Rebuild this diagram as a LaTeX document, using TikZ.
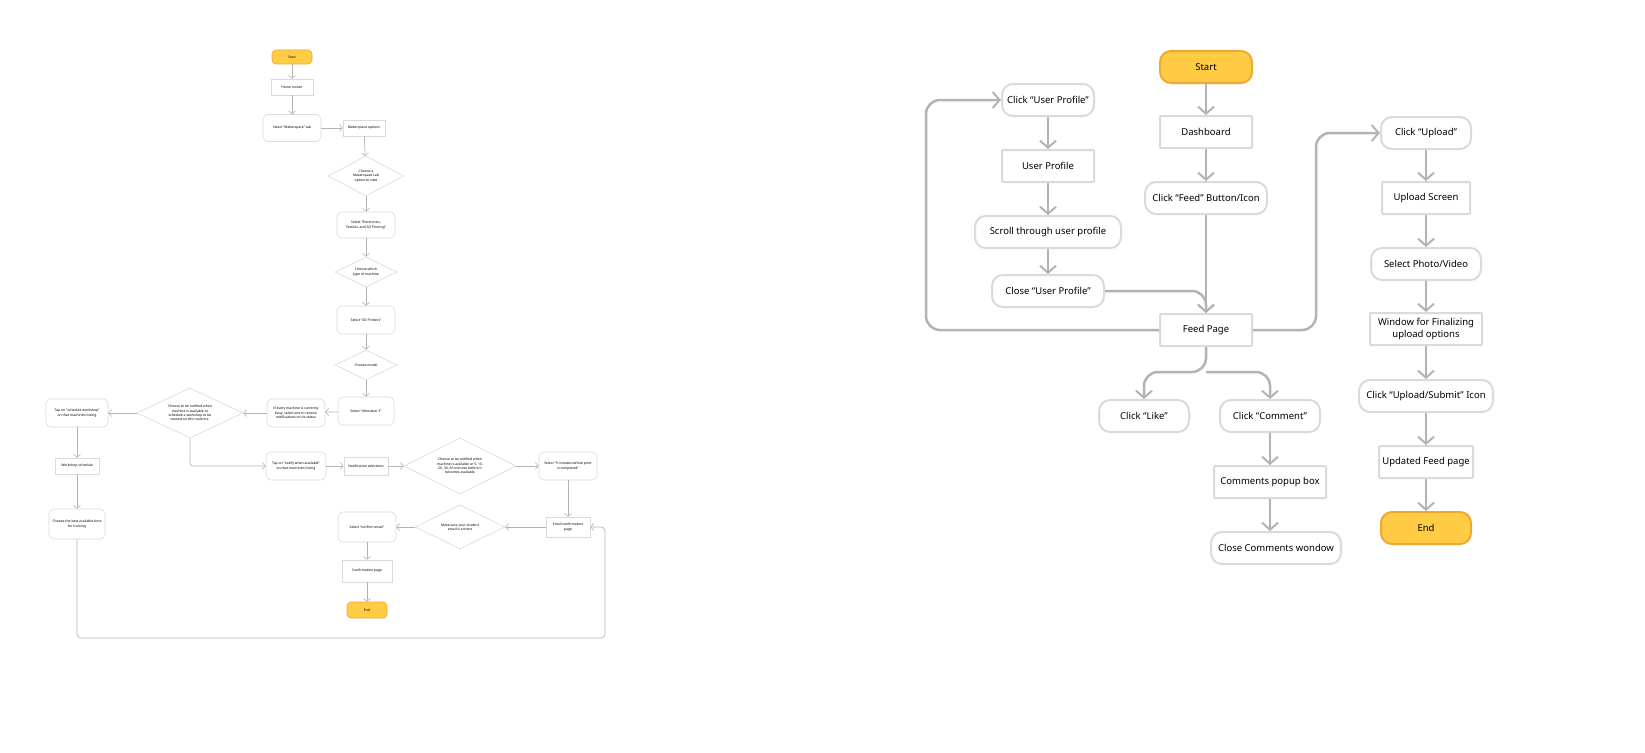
\documentclass[tikz,border=0pt]{standalone}
\usepackage{fontspec}
\setmainfont{Noto Sans}
\usetikzlibrary{arrows.meta,shapes.geometric}
\definecolor{bd}{HTML}{DADADA}
\definecolor{ar}{HTML}{B3B3B3}
\definecolor{yf}{HTML}{FFCC44}
\definecolor{yb}{HTML}{F0A830}
\begin{document}
\begin{tikzpicture}[x=1pt,y=-1pt,
 R/.style={draw=bd,line width=2pt,rounded corners=11pt,fill=white,minimum height=32pt,font=\fontsize{9.5}{12}\selectfont,align=center,inner sep=2pt},
 Q/.style={draw=bd,line width=2pt,rounded corners=1pt,fill=white,minimum height=32pt,font=\fontsize{9.5}{12}\selectfont,align=center,inner sep=2pt},
 Y/.style={R,fill=yf,draw=yb},
 A/.style={draw=ar,line width=2.5pt,-{Straight Barb[length=7pt,width=16pt,line width=2pt]},rounded corners=14pt},
 lr/.style={draw=bd,line width=0.6pt,rounded corners=5pt,fill=white,font=\fontsize{3.4}{4.4}\selectfont,align=center,inner sep=1pt},
 lq/.style={draw=bd,line width=0.6pt,fill=white,font=\fontsize{3.4}{4.4}\selectfont,align=center,inner sep=1pt},
 ly/.style={lr,fill=yf,draw=yb,rounded corners=4pt},
 ld/.style={diamond,aspect=1.9,draw=bd,line width=0.6pt,fill=white,font=\fontsize{3.4}{4.4}\selectfont,align=center,inner sep=0pt},
 la/.style={draw=ar,line width=0.7pt,-{Straight Barb[length=3pt,width=7pt,line width=0.6pt]}}]
\useasboundingbox[fill=white] (0,0) rectangle (1645,752);
% ---------- left diagram ----------
\node[ly,minimum width=40pt,minimum height=14pt] (ls) at (292,57) {Start};
\node[lq,minimum width=42pt,minimum height=16pt] (lh) at (292,87) {Home screen};
\node[lr,minimum width=58pt,minimum height=27pt] (lm) at (292,128) {Select “Makerspace” tab};
\node[lq,minimum width=42pt,minimum height=16pt] (lo) at (364,128) {Makerspace options};
\node[ld,minimum width=76pt,minimum height=40pt] (d1) at (366,176) {Choose a\\Makerspace Lab\\option to view};
\node[lr,minimum width=58pt,minimum height=26pt] (le) at (366,225) {Select “Electronics,\\Textiles, and 3D Printing”};
\node[ld,minimum width=62pt,minimum height=30pt] (d2) at (366,272) {Choose which\\type of machine};
\node[lr,minimum width=58pt,minimum height=28pt] (lp) at (366,320) {Select “3D Printers”};
\node[ld,minimum width=62pt,minimum height=30pt] (d3) at (366,365) {Choose model};
\node[lr,minimum width=56pt,minimum height=28pt] (lu) at (366,411) {Select “Ultimaker 3”};
\node[lr,minimum width=58pt,minimum height=28pt] (lb) at (296,413) {If every machine is currently\\busy, select one to receive\\notifications on its status};
\node[ld,minimum width=106pt,minimum height=50pt] (d4) at (190,413) {Choose to be notified when\\machine is available or\\schedule a workshop to be\\trained on this machine.};
\node[lr,minimum width=62pt,minimum height=28pt] (lw) at (77,413) {Tap on “schedule workshop”\\on that machine's listing};
\node[lq,minimum width=44pt,minimum height=16pt] (lws) at (77,466) {Workshop schedule};
\node[lr,minimum width=56pt,minimum height=30pt] (lt) at (77,524) {Choose the best available time\\for training};
\node[lr,minimum width=60pt,minimum height=28pt] (ln) at (296,466) {Tap on “notify when available”\\on that machine's listing};
\node[lq,minimum width=44pt,minimum height=18pt] (lns) at (366,466) {Notification selections};
\node[ld,minimum width=112pt,minimum height=56pt] (d5) at (460,466) {Choose to be notified when\\machine is available or 5, 10,\\20, 30, 60 minutes before it\\becomes available};
\node[lr,minimum width=58pt,minimum height=28pt] (l5) at (568,466) {Select “5 minutes before print\\is completed”};
\node[lq,minimum width=44pt,minimum height=20pt] (lec) at (568,527) {Email confirmation\\page};
\node[ld,minimum width=90pt,minimum height=44pt] (d6) at (460,527) {Make sure your student\\email is correct};
\node[lr,minimum width=58pt,minimum height=30pt] (lce) at (367,527) {Select “confirm email”};
\node[lq,minimum width=50pt,minimum height=22pt] (lcp) at (367,571) {Confirmation page};
\node[ly,minimum width=40pt,minimum height=16pt] (lend) at (367,610) {End};
\draw[la] (ls) -- (lh); \draw[la] (lh) -- (lm); \draw[la] (lm) -- (lo);
\draw[la] (lo) -- (d1); \draw[la] (d1) -- (le); \draw[la] (le) -- (d2);
\draw[la] (d2) -- (lp); \draw[la] (lp) -- (d3); \draw[la] (d3) -- (lu);
\draw[la] (lu) -- (lb); \draw[la] (lb) -- (d4); \draw[la] (d4) -- (lw);
\draw[la] (lw) -- (lws); \draw[la] (lws) -- (lt);
\draw[la,rounded corners=3pt] (d4.south) |- (ln);
\draw[la] (ln) -- (lns); \draw[la] (lns) -- (d5); \draw[la] (d5) -- (l5);
\draw[la] (l5) -- (lec); \draw[la] (lec) -- (d6); \draw[la] (d6) -- (lce);
\draw[la] (lce) -- (lcp); \draw[la] (lcp) -- (lend);
\draw[la,rounded corners=4pt] (lt.south) -- (77,638) -- (605,638) -- (605,527) -- (lec.east);
% ---------- right diagram ----------
\node[Y,minimum width=92pt] (s) at (1206,67) {Start};
\node[Q,minimum width=92pt] (db) at (1206,132) {Dashboard};
\node[R,minimum width=122pt] (cf) at (1206,198) {Click “Feed” Button/Icon};
\node[Q,minimum width=92pt] (fp) at (1206,330) {Feed Page};
\node[R,minimum width=92pt] (cup) at (1048,100) {Click “User Profile”};
\node[Q,minimum width=92pt] (up) at (1048,166) {User Profile};
\node[R,minimum width=146pt] (sc) at (1048,232) {Scroll through user profile};
\node[R,minimum width=112pt] (cl) at (1048,291) {Close “User Profile”};
\node[R,minimum width=90pt] (cu) at (1426,133) {Click “Upload”};
\node[Q,minimum width=88pt] (us) at (1426,198) {Upload Screen};
\node[R,minimum width=110pt] (sp) at (1426,264) {Select Photo/Video};
\node[Q,minimum width=112pt] (wf) at (1426,329) {Window for Finalizing\\upload options};
\node[R,minimum width=134pt] (cs) at (1426,396) {Click “Upload/Submit” Icon};
\node[Q,minimum width=94pt] (uf) at (1426,462) {Updated Feed page};
\node[Y,minimum width=90pt] (end) at (1426,528) {End};
\node[R,minimum width=90pt] (lk) at (1144,416) {Click “Like”};
\node[R,minimum width=100pt] (cm) at (1270,416) {Click “Comment”};
\node[Q,minimum width=112pt] (cp) at (1270,482) {Comments popup box};
\node[R,minimum width=130pt] (cc) at (1276,548) {Close Comments wondow};
\draw[A] (s) -- (db); \draw[A] (db) -- (cf); \draw[A] (cf) -- (fp);
\draw[A] (cup) -- (up); \draw[A] (up) -- (sc); \draw[A] (sc) -- (cl);
\draw[A] (cl.east) -- (1206,291) -- (fp.north);
\draw[A] (fp.west) -- (926,330) -- (926,100) -- (cup.west);
\draw[A] (fp.east) -- (1316,330) -- (1316,133) -- (cu.west);
\draw[A] (cu) -- (us); \draw[A] (us) -- (sp); \draw[A] (sp) -- (wf);
\draw[A] (wf) -- (cs); \draw[A] (cs) -- (uf); \draw[A] (uf) -- (end);
\draw[A] (fp.south) -- (1206,372) -- (1144,372) -- (lk.north);
\draw[A] (1206,372) -- (1270,372) -- (cm.north);
\draw[A] (cm) -- (cp); \draw[A] (cp.south) -- (cp.south |- cc.north);
\end{tikzpicture}
\end{document}
